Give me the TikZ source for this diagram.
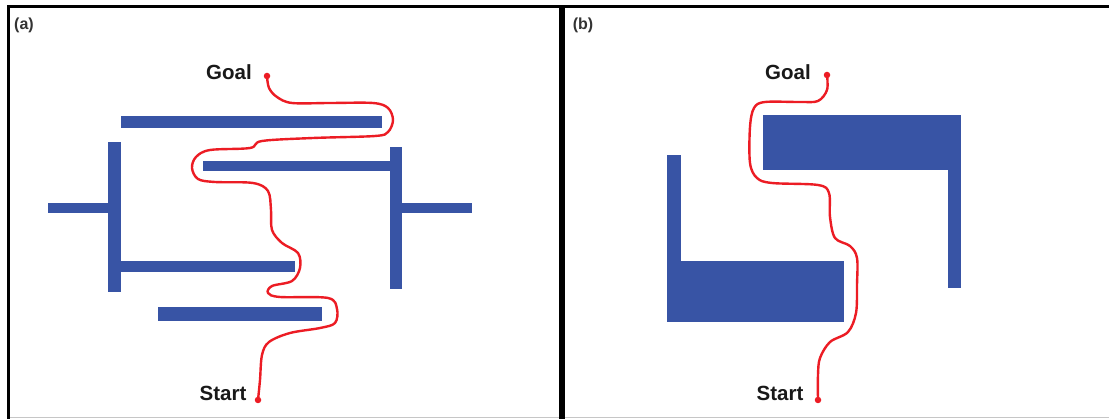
\documentclass[tikz,border=0pt]{standalone}
\usepackage{fontspec}
\setmainfont{Liberation Sans}
\definecolor{wallblue}{RGB}{56,84,165}
\definecolor{routered}{RGB}{236,28,36}
\begin{document}
\begin{tikzpicture}[x=1pt,y=-1pt,
  wall/.style={fill=wallblue},
  route/.style={draw=routered,line width=2.4pt,line cap=round,line join=round},
  enddot/.style={circle,fill=routered,inner sep=0pt,minimum size=6.5pt},
  lbl/.style={font=\bfseries\fontsize{20.5}{24}\selectfont,inner sep=0pt,text=black!90},
  tag/.style={font=\bfseries\fontsize{16}{18}\selectfont,inner sep=0pt,text=black!80}]
\useasboundingbox (0,0) rectangle (1109,419);
\fill[white] (0,0) rectangle (1109,419);

% frame and divider
\draw[gray!45,line width=1.5pt] (8,417.5) -- (1109,417.5);
\draw[line width=3pt] (8,419) -- (8,7) -- (1109,7);
\draw[line width=6pt] (562,7) -- (562,419);

\node[tag] (taga) at (24,25) {(a)};
\node[tag] (tagb) at (583,25) {(b)};

% ---------- panel (a): obstacles ----------
\fill[wall] (121,116) rectangle (382,128);
\fill[wall] (203,161) rectangle (390,171);
\fill[wall] (390,147) rectangle (402,289);
\fill[wall] (402,203) rectangle (472,213);
\fill[wall] (108,142) rectangle (121,292);
\fill[wall] (48,203) rectangle (108,213);
\fill[wall] (121,261) rectangle (295,272);
\fill[wall] (158,307) rectangle (322,321);

% panel (a): route from start to goal
\coordinate (goala) at (267,76);
\coordinate (starta) at (258,400);
\draw[route] plot[smooth,tension=0.55] coordinates {
  (goala) (269,88) (277,97) (292,103) (330,103) (373,103) (388,108) (393,120)
  (388,132) (375,136) (313,138) (262,141) (250,148) (210,150) (196,157)
  (192,168) (198,179) (215,182) (253,183) (268,191) (271,210) (272,230)
  (282,243) (298,253) (300,268) (292,281) (272,286) (268,293) (280,297)
  (328,298) (337,309) (335,323) (320,328) (290,333) (269,342) (262,355)
  (260,380) (starta)};
\node[enddot] (gdota) at (goala) {};
\node[enddot] (sdota) at (starta) {};
\node[lbl] (goaltxta) at (229,72) {Goal};
\node[lbl] (starttxta) at (223,393) {Start};

% ---------- panel (b): obstacles ----------
\fill[wall] (763,115) rectangle (961,170);
\fill[wall] (948,169) rectangle (961,288);
\fill[wall] (667,155) rectangle (681,262);
\fill[wall] (667,261) rectangle (844,322);

% panel (b): route from start to goal
\coordinate (goalb) at (827,75);
\coordinate (startb) at (818,400);
\draw[route] plot[smooth,tension=0.55] coordinates {
  (goalb) (827,90) (818,101) (800,102) (765,102) (754,108) (750,127)
  (750,163) (757,178) (772,183) (818,185) (829,193) (830,217) (835,238)
  (850,246) (857,258) (857,285) (856,313) (848,332) (830,342) (820,358)
  (818,375) (startb)};
\node[enddot] (gdotb) at (goalb) {};
\node[enddot] (sdotb) at (startb) {};
\node[lbl] (goaltxtb) at (788,72) {Goal};
\node[lbl] (starttxtb) at (780,393) {Start};
\end{tikzpicture}
\end{document}
